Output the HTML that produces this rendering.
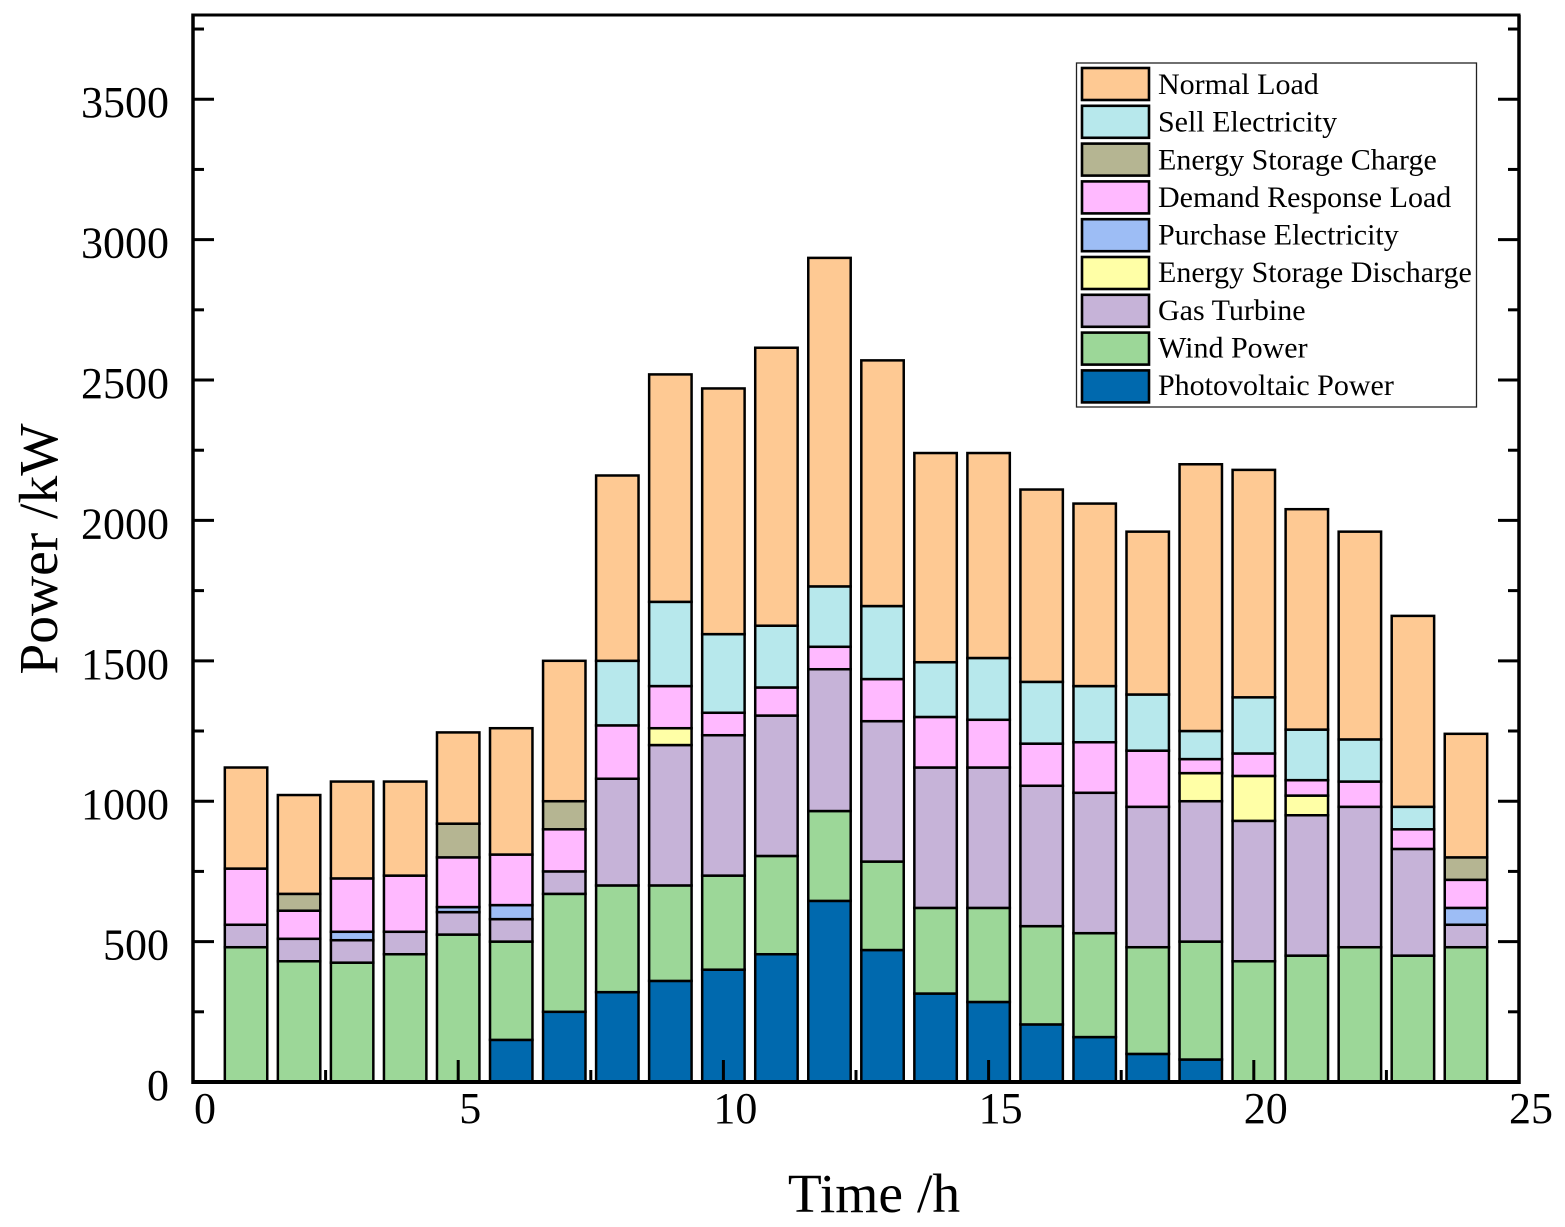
<!DOCTYPE html>
<html lang="en">
<head>
<meta charset="utf-8">
<title>Power by hour stacked bar chart</title>
<style>
  html, body { margin: 0; padding: 0; background: #fff; }
  svg { display: block; font-family: "Liberation Serif", serif; fill: #000; }
</style>
</head>
<body>
<svg id="chart" xmlns="http://www.w3.org/2000/svg" width="1565" height="1227" viewBox="0 0 1565 1227">
  <g id="bars"></g>
  <g id="axes"></g>
  <text transform="translate(57 549) rotate(-90)" text-anchor="middle" font-size="55.5">Power /kW</text>
  <text x="874" y="1212" text-anchor="middle" font-size="55.5">Time /h</text>
  <g font-size="30">
    <rect x="1076.5" y="63" width="400" height="344" fill="#fff" stroke="#222" stroke-width="1.3"/>
    <g><rect x="1082" y="68" width="67" height="32" fill="#fec993" stroke="#000" stroke-width="2.6"/><text x="1158" y="94">Normal Load</text></g>
    <g><rect x="1082" y="105.800" width="67" height="32" fill="#b7e8ec" stroke="#000" stroke-width="2.6"/><text x="1158" y="131.600">Sell Electricity</text></g>
    <g><rect x="1082" y="143.600" width="67" height="32" fill="#b5b592" stroke="#000" stroke-width="2.6"/><text x="1158" y="169.300">Energy Storage Charge</text></g>
    <g><rect x="1082" y="181.400" width="67" height="32" fill="#ffb9ff" stroke="#000" stroke-width="2.6"/><text x="1158" y="206.900">Demand Response Load</text></g>
    <g><rect x="1082" y="219.200" width="67" height="32" fill="#9dbdf5" stroke="#000" stroke-width="2.6"/><text x="1158" y="244.500">Purchase Electricity</text></g>
    <g><rect x="1082" y="257" width="67" height="32" fill="#ffffa6" stroke="#000" stroke-width="2.6"/><text x="1158" y="282.200">Energy Storage Discharge</text></g>
    <g><rect x="1082" y="294.800" width="67" height="32" fill="#c6b3d8" stroke="#000" stroke-width="2.6"/><text x="1158" y="319.800">Gas Turbine</text></g>
    <g><rect x="1082" y="332.600" width="67" height="32" fill="#9cd798" stroke="#000" stroke-width="2.6"/><text x="1158" y="357.400">Wind Power</text></g>
    <g><rect x="1082" y="370.400" width="67" height="32" fill="#0069ae" stroke="#000" stroke-width="2.6"/><text x="1158" y="395">Photovoltaic Power</text></g>
  </g>
</svg>
<script>
const hours = [1,2,3,4,5,6,7,8,9,10,11,12,13,14,15,16,17,18,19,20,21,22,23,24];
const photovoltaicPower = [0,0,0,0,0,150,250,320,360,400,455,645,470,315,285,205,160,100,80,0,0,0,0,0];
const windPower = [480,430,425,455,525,350,420,380,340,335,350,320,315,305,335,350,370,380,420,430,450,480,450,480];
const gasTurbine = [80,80,80,80,80,80,80,380,500,500,500,505,500,500,500,500,500,500,500,500,500,500,380,80];
const energyStorageDischarge = [0,0,0,0,0,0,0,0,60,0,0,0,0,0,0,0,0,0,100,160,70,0,0,0];
const purchaseElectricity = [0,0,30,0,18,50,0,0,0,0,0,0,0,0,0,0,0,0,0,0,0,0,0,60];
const demandResponseLoad = [200,100,190,200,177,180,150,190,150,80,100,80,150,180,170,150,180,200,50,80,55,90,70,100];
const energyStorageCharge = [0,60,0,0,120,0,100,0,0,0,0,0,0,0,0,0,0,0,0,0,0,0,0,80];
const sellElectricity = [0,0,0,0,0,0,0,230,300,280,220,215,260,195,220,220,200,200,100,200,180,150,80,0];
const normalLoad = [360,352,345,335,325,450,500,660,810,875,990,1170,875,745,730,685,650,580,950,810,785,740,680,440];
const seriesList = [photovoltaicPower, windPower, gasTurbine, energyStorageDischarge, purchaseElectricity, demandResponseLoad, energyStorageCharge, sellElectricity, normalLoad];
const seriesNames = ['photovoltaic-power','wind-power','gas-turbine','energy-storage-discharge','purchase-electricity','demand-response-load','energy-storage-charge','sell-electricity','normal-load'];
const seriesColors = ['#0069ae','#9cd798','#c6b3d8','#ffffa6','#9dbdf5','#ffb9ff','#b5b592','#b7e8ec','#fec993'];
const xMajorTicks = [0,5,10,15,20,25];
const xMinorTicks = [2.5,7.5,12.5,17.5,22.5];
const yMajorTicks = [0,500,1000,1500,2000,2500,3000,3500];
const yMinorTicks = [250,750,1250,1750,2250,2750,3250,3750];

const SVG_NS = 'http://www.w3.org/2000/svg';
const PLOT_LEFT = 193, PLOT_RIGHT = 1519, PLOT_TOP = 15, PLOT_BOTTOM = 1082;
const X_MAX = 25, Y_MAX = 3800, BAR_WIDTH = 0.8;
const xScale = v => PLOT_LEFT + (v / X_MAX) * (PLOT_RIGHT - PLOT_LEFT);
const yScale = v => PLOT_BOTTOM - (v / Y_MAX) * (PLOT_BOTTOM - PLOT_TOP);

function make(tag, attrs, parent) {
  const el = document.createElementNS(SVG_NS, tag);
  Object.keys(attrs).forEach(k => el.setAttribute(k, attrs[k]));
  parent.appendChild(el);
  return el;
}

const barsLayer = document.getElementById('bars');
hours.forEach((hour, i) => {
  let base = 0;
  seriesList.forEach((series, s) => {
    const value = series[i];
    if (!value) return;
    const top = base + value;
    const rect = make('rect', {
      x: xScale(hour - BAR_WIDTH / 2),
      y: yScale(top),
      width: xScale(hour + BAR_WIDTH / 2) - xScale(hour - BAR_WIDTH / 2),
      height: yScale(base) - yScale(top),
      fill: seriesColors[s],
      stroke: '#000',
      'stroke-width': 2.5
    }, barsLayer);
    
    
    base = top;
  });
});

const axesLayer = document.getElementById('axes');
function axisLine(x1, y1, x2, y2, w, name) {
  const line = make('line', { x1: x1, y1: y1, x2: x2, y2: y2, stroke: '#000', 'stroke-width': w }, axesLayer);
  
  
}
axisLine(PLOT_LEFT, PLOT_TOP, PLOT_RIGHT + 1.5, PLOT_TOP, 3, 'top-spine');
axisLine(PLOT_LEFT, PLOT_TOP - 1.5, PLOT_LEFT, PLOT_BOTTOM + 2, 3.5, 'left-spine');
axisLine(PLOT_RIGHT, PLOT_TOP, PLOT_RIGHT, PLOT_BOTTOM + 2, 3.5, 'right-spine');
axisLine(PLOT_LEFT, PLOT_BOTTOM, PLOT_RIGHT, PLOT_BOTTOM, 4, 'bottom-spine');

yMajorTicks.forEach(v => {
  axisLine(PLOT_LEFT, yScale(v), PLOT_LEFT + 21, yScale(v), 3, 'y-tick-left-' + v);
  axisLine(PLOT_RIGHT, yScale(v), PLOT_RIGHT - 21, yScale(v), 3, 'y-tick-right-' + v);
  const label = make('text', { x: 169, y: yScale(v) + 18, 'text-anchor': 'end', 'font-size': 44 }, axesLayer);
  label.textContent = String(v);
  
  
});
yMinorTicks.forEach(v => {
  axisLine(PLOT_LEFT, yScale(v), PLOT_LEFT + 11, yScale(v), 3, 'y-minor-tick-left-' + v);
  axisLine(PLOT_RIGHT, yScale(v), PLOT_RIGHT - 11, yScale(v), 3, 'y-minor-tick-right-' + v);
});
xMajorTicks.forEach(v => {
  axisLine(xScale(v), PLOT_BOTTOM, xScale(v), PLOT_BOTTOM - 22, 3, 'x-tick-' + v);
  const label = make('text', { x: xScale(v) + 12, y: 1123, 'text-anchor': 'middle', 'font-size': 44 }, axesLayer);
  label.textContent = String(v);
  
  
});
xMinorTicks.forEach(v => {
  axisLine(xScale(v), PLOT_BOTTOM, xScale(v), PLOT_BOTTOM - 12, 3, 'x-minor-tick-' + v);
});
</script>
</body>
</html>
